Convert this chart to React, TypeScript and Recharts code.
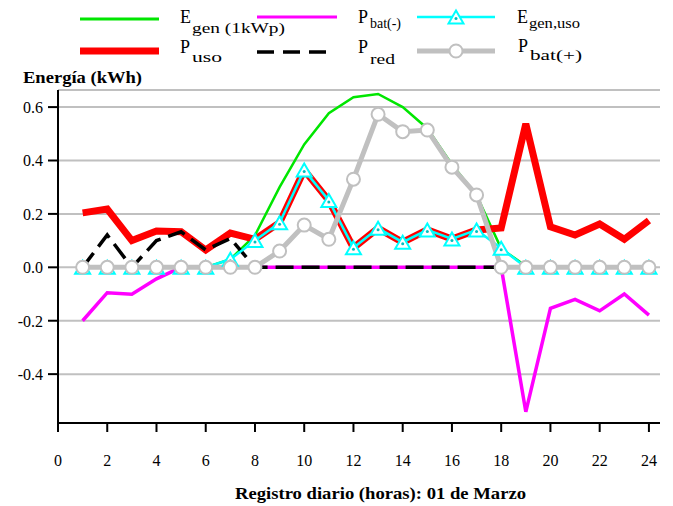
import React from 'react';
import { LineChart, Line, XAxis, YAxis, CartesianGrid } from 'recharts';

const hours = [1, 2, 3, 4, 5, 6, 7, 8, 9, 10, 11, 12, 13, 14, 15, 16, 17, 18, 19, 20, 21, 22, 23, 24];
const eGen = [0, 0, 0, 0, 0, 0, 0.03, 0.12, 0.3, 0.46, 0.577, 0.637, 0.649, 0.6, 0.52, 0.385, 0.27, 0.07, 0.005, 0, 0, 0, 0, 0];
const pUso = [0.204, 0.218, 0.1, 0.136, 0.133, 0.065, 0.128, 0.105, 0.167, 0.364, 0.25, 0.073, 0.146, 0.094, 0.14, 0.106, 0.14, 0.147, 0.537, 0.152, 0.121, 0.162, 0.105, 0.175];
const pBatNeg = [-0.2, -0.095, -0.101, -0.043, 0, 0, 0, 0, 0, 0, 0, 0, 0, 0, 0, 0, 0, 0, -0.541, -0.154, -0.12, -0.163, -0.1, -0.179];
const eGenUso = [0, 0, 0, 0, 0, 0, 0.03, 0.1, 0.167, 0.364, 0.25, 0.073, 0.146, 0.094, 0.14, 0.106, 0.14, 0.071, 0, 0, 0, 0, 0, 0];
const pRed = [0, 0.121, 0, 0.1, 0.133, 0.065, 0.108, 0, 0, 0, 0, 0, 0, 0, 0, 0, 0, 0, 0, 0, 0, 0, 0, 0];
const pBatPos = [0, 0, 0, 0, 0, 0, 0, 0, 0.061, 0.158, 0.105, 0.33, 0.573, 0.508, 0.514, 0.375, 0.271, 0, 0, 0, 0, 0, 0, 0];

const xTicks = [0, 2, 4, 6, 8, 10, 12, 14, 16, 18, 20, 22, 24];
const yTicks = [-0.4, -0.2, 0, 0.2, 0.4, 0.6];

const data = hours.map((h, i) => ({
  h,
  eGen: eGen[i],
  pUso: pUso[i],
  pBatNeg: pBatNeg[i],
  eGenUso: eGenUso[i],
  pRed: pRed[i],
  pBatPos: pBatPos[i],
}));

const FONT = "'Liberation Serif', 'DejaVu Serif', serif";
const GREEN = '#00e600';
const RED = '#ff0000';
const MAGENTA = '#ff00ff';
const CYAN = '#00ffff';
const GRAY = '#c0c0c0';

const Triangle = ({ cx, cy }: { cx: number; cy: number }) => (
  <g>
    <polygon
      points={`${cx},${cy - 6.5} ${cx - 7.5},${cy + 6.5} ${cx + 7.5},${cy + 6.5}`}
      fill="#ffffff"
      stroke={CYAN}
      strokeWidth={2}
    />
    <circle cx={cx} cy={cy + 1.5} r={1.5} fill="#00bfbf" />
  </g>
);

const triDot = (props: any) => {
  const { cx, cy, index } = props;
  if (cx == null || cy == null) return <g key={`t${index}`} />;
  return (
    <g key={`t${index}`}>
      <Triangle cx={cx} cy={cy} />
    </g>
  );
};

const circDot = (props: any) => {
  const { cx, cy, index } = props;
  if (cx == null || cy == null) return <g key={`c${index}`} />;
  return <circle key={`c${index}`} cx={cx} cy={cy} r={6.5} fill="#ffffff" stroke={GRAY} strokeWidth={2} />;
};

const textStyle = { fontFamily: FONT };

const Sub = ({ x, y, main, sub, dy, w }: { x: number; y: number; main: string; sub: string; dy: number; w: number }) => (
  <g fill="#000">
    <text x={x} y={y} fontSize={18} style={textStyle}>{main}</text>
    <text x={x + 12} y={y + dy} fontSize={15} textLength={w} lengthAdjust="spacingAndGlyphs" style={textStyle}>{sub}</text>
  </g>
);

const TickText = (props: any) => {
  const { x, y, payload, anchor, fmt, dy } = props;
  return (
    <text x={x} y={y} dy={dy} textAnchor={anchor} fontSize={16} fill="#000" style={textStyle}>
      {fmt ? fmt(payload.value) : payload.value}
    </text>
  );
};

export default function App() {
  return (
    <div style={{ position: 'absolute', left: 0, top: 0, width: 673, height: 506, background: '#fff', fontFamily: FONT }}>
      <LineChart
        width={673}
        height={506}
        data={data}
        margin={{ top: 90, right: 13, bottom: 53, left: 8 }}
      >
        <CartesianGrid horizontal vertical={false} stroke={GRAY} strokeWidth={2} />
        <XAxis
          type="number"
          dataKey="h"
          domain={[0, 24.45]}
          ticks={xTicks}
          allowDataOverflow
          height={30}
          tickSize={9}
          tickMargin={20}
          axisLine={{ stroke: '#000', strokeWidth: 2 }}
          tickLine={{ stroke: '#000', strokeWidth: 2 }}
          tick={(p: any) => <TickText {...p} anchor="middle" dy={14} />}
        />
        <YAxis
          type="number"
          domain={[-0.583, 0.664]}
          ticks={yTicks}
          allowDataOverflow
          width={50}
          tickSize={10}
          tickMargin={5}
          axisLine={{ stroke: '#000', strokeWidth: 2 }}
          tickLine={{ stroke: '#000', strokeWidth: 2 }}
          tick={(p: any) => <TickText {...p} anchor="end" dy={6} fmt={(v: number) => v.toFixed(1)} />}
        />
        <Line type="linear" dataKey="eGen" stroke={GREEN} strokeWidth={2.5} dot={false} isAnimationActive={false} />
        <Line type="linear" dataKey="pUso" stroke={RED} strokeWidth={7} dot={false} isAnimationActive={false} />
        <Line type="linear" dataKey="pBatNeg" stroke={MAGENTA} strokeWidth={3.5} dot={false} isAnimationActive={false} />
        <Line type="linear" dataKey="pRed" stroke="#000" strokeWidth={3.5} strokeDasharray="18 8" dot={false} isAnimationActive={false} />
        <Line type="linear" dataKey="eGenUso" stroke={CYAN} strokeWidth={2.5} dot={triDot} isAnimationActive={false} />
        <Line type="linear" dataKey="pBatPos" stroke={GRAY} strokeWidth={5} dot={circDot} isAnimationActive={false} />
      </LineChart>
      <svg width={673} height={506} style={{ position: 'absolute', left: 0, top: 0, pointerEvents: 'none' }}>
        {/* Legend row 1 */}
        <line x1={80} y1={19} x2={159} y2={19} stroke={GREEN} strokeWidth={3} />
        <Sub x={180} y={23} main="E" sub="gen (1kWp)" dy={10} w={93} />
        <line x1={257} y1={17} x2={337} y2={17} stroke={MAGENTA} strokeWidth={3} />
        <Sub x={358} y={23} main="P" sub="bat(-)" dy={5} w={31} />
        <line x1={417} y1={17} x2={495} y2={17} stroke={CYAN} strokeWidth={2.5} />
        <Triangle cx={456} cy={17} />
        <Sub x={517} y={23} main="E" sub="gen,uso" dy={5} w={51} />
        {/* Legend row 2 */}
        <line x1={80} y1={51} x2={159} y2={51} stroke={RED} strokeWidth={7} />
        <Sub x={180} y={53} main="P" sub="uso" dy={9} w={30} />
        <line x1={257} y1={52} x2={330} y2={52} stroke="#000" strokeWidth={3.5} strokeDasharray="17 9" />
        <Sub x={358} y={53} main="P" sub="red" dy={11} w={25} />
        <line x1={417} y1={51} x2={495} y2={51} stroke={GRAY} strokeWidth={5} />
        <circle cx={456} cy={51} r={6.5} fill="#fff" stroke={GRAY} strokeWidth={2} />
        <Sub x={518} y={52} main="P" sub="bat(+)" dy={8} w={52} />
        {/* Axis titles */}
        <text x={23} y={83} fontSize={17} fontWeight="bold" fill="#000" textLength={119} lengthAdjust="spacingAndGlyphs" style={textStyle}>Energía (kWh)</text>
        <text x={235} y={499} fontSize={17} fontWeight="bold" fill="#000" textLength={291} lengthAdjust="spacingAndGlyphs" style={textStyle}>Registro diario (horas): 01 de Marzo</text>
      </svg>
    </div>
  );
}
